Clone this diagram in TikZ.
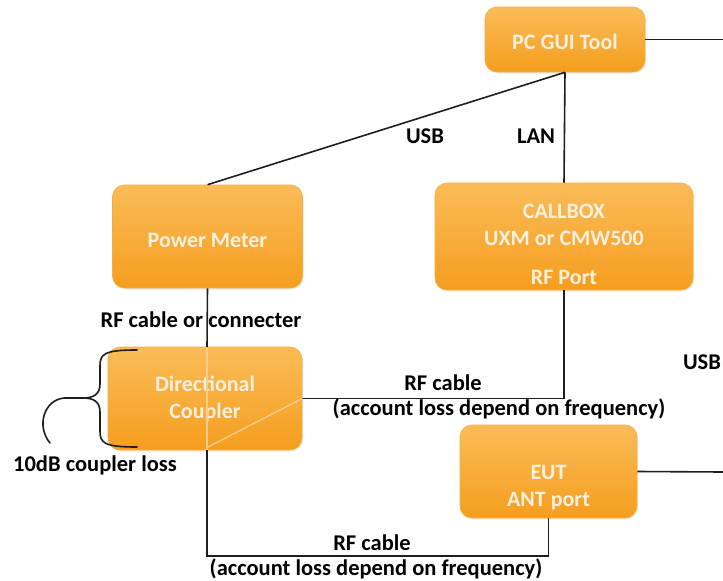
\documentclass[tikz,border=0pt]{standalone}
\usepackage{fontspec}
\setmainfont{Carlito}
\usetikzlibrary{shadows}
\definecolor{boxtop}{RGB}{250,188,88}
\definecolor{boxbot}{RGB}{245,158,30}
\definecolor{boxtext}{RGB}{253,240,222}
\definecolor{wirec}{RGB}{30,30,30}
\definecolor{ghost}{RGB}{250,205,140}
\begin{document}
\begin{tikzpicture}[x=1pt,y=-1pt,
  box/.style={rectangle, rounded corners=12pt, top color=boxtop, bottom color=boxbot, draw=boxbot!85!white, line width=0.6pt, inner sep=0pt, drop shadow={opacity=0.15, shadow xshift=1pt, shadow yshift=-1.5pt}},
  boxtxt/.style={text=boxtext, font=\fontsize{22}{27}\selectfont\bfseries, align=center, inner sep=0pt},
  wire/.style={draw=wirec, line width=1.6pt},
  ghostline/.style={draw=ghost, line width=1.4pt},
  lbl/.style={font=\fontsize{22.5}{26}\selectfont\bfseries, text=black, inner sep=0pt},
]
\useasboundingbox[fill=white] (0,0) rectangle (723,581);

% boxes
\node[box, minimum width=160pt, minimum height=65pt] (pc) at (565,39.5) {};
\node[box, minimum width=258pt, minimum height=107pt] (cb) at (564,236.5) {};
\node[box, minimum width=190pt, minimum height=103pt] (pm) at (207.5,236.5) {};
\node[box, minimum width=194pt, minimum height=103pt] (cp) at (205,398.5) {};
\node[box, minimum width=177pt, minimum height=93pt] (eut) at (548.5,471.5) {};

% box texts
\node[boxtxt] (pcT) at (565,42) {PC GUI Tool};
\node[boxtxt] (cbT) at (564,244) {CALLBOX\\UXM or CMW500\\[12pt]RF Port};
\node[boxtxt] (pmT) at (207.5,240) {Power Meter};
\node[boxtxt] (cpT) at (205,398.5) {Directional\\Coupler};
\node[boxtxt] (eutT) at (548.5,487.5) {EUT\\ANT port};

% free ends
\coordinate (pcR) at (723,39.5);
\coordinate (eutR) at (723,472);
\coordinate (bot) at (207,556);
\coordinate (cpN) at (207,347);
\coordinate (cpS) at (207,450);
\coordinate (diagEnd) at (208,447);

% wires
\draw[wire] (pc.east) -- (pcR);
\draw[wire] (eut.east) -- (eutR);
\draw[wire] (pc.south) -- (cb.north);
\draw[wire] (pc.south) -- (pm.north);
\draw[wire] (cp.east) -| (cb.south);
\draw[wire] (eut.south) |- (bot) -- (cpS);

% faint lines seen through the coupler
\draw[ghostline] (cpN) -- (cpS);
\draw[ghostline] (cp.east) -- (diagEnd);

% brace and its hook
\coordinate (brT) at (137,350);
\coordinate (brB) at (137,447);
\coordinate (brTip) at (83,398);
\coordinate (hookEnd) at (50,443);
\draw[wire, line cap=round] (brT) .. controls (104,350) and (100,354) .. (100,366)
  -- (100,384) .. controls (100,394) and (94,398) .. (brTip)
  .. controls (94,398) and (100,402) .. (100,412)
  -- (100,431) .. controls (100,443) and (104,447) .. (brB);
\draw[wire, line cap=round] (brTip) -- (64,398) .. controls (44,400) and (36,426) .. (hookEnd);

% labels
\node[lbl] (usb1) at (425,136) {USB};
\node[lbl] (lan) at (536,136) {LAN};
\node[lbl] (rfc) at (201,320) {RF cable or connecter};
\draw[wire] (pm.south) -- (cpN);
\node[lbl] (rf1) at (443,383) {RF cable};
\node[lbl] (acc1) at (499,409) {(account loss depend on frequency)};
\node[lbl] (cl) at (95,465) {10dB coupler loss};
\node[lbl] (rf2) at (372,543) {RF cable};
\node[lbl] (acc2) at (376,569) {(account loss depend on frequency)};
\node[lbl] (usb2) at (702,362) {USB};
\end{tikzpicture}
\end{document}
